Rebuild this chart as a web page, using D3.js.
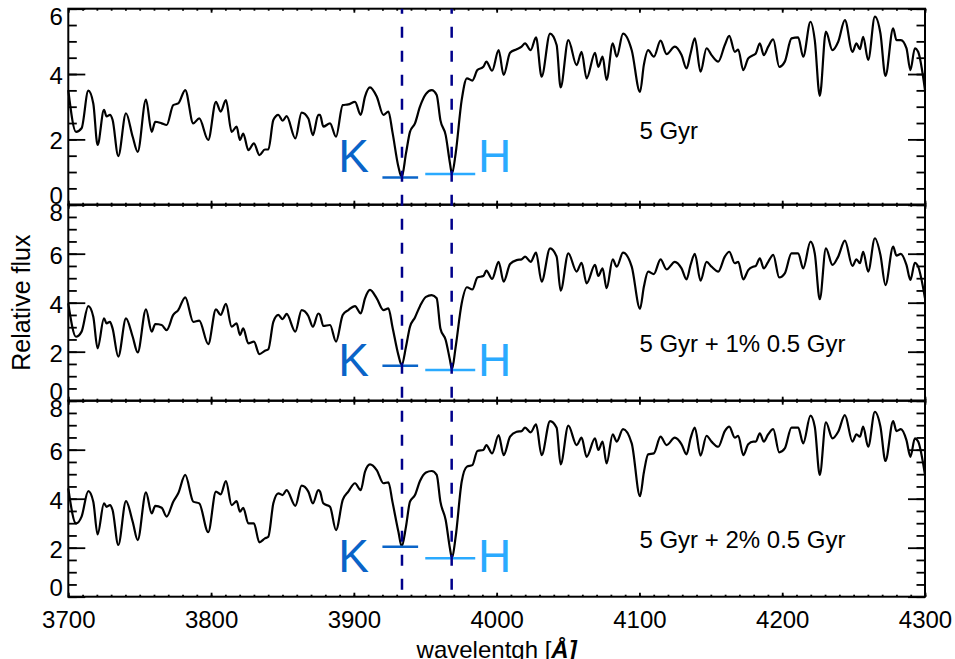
<!DOCTYPE html>
<html>
<head>
<meta charset="utf-8">
<script src="https://cdn.jsdelivr.net/npm/d3@7"></script>
<style>
  body { margin: 0; background: #fff; }
  svg { display: block; font-family: "Liberation Sans", Arial, Helvetica, sans-serif; }
</style>
</head>
<body>
<div id="chart"></div>
<script>
// wavelength grid (Angstrom)
const wave = [
  3700.0, 3705.4, 3709.3, 3714.0, 3717.5, 3720.5, 3725.0, 3726.8, 3729.2, 3731.0,
  3735.0, 3740.4, 3745.1, 3748.6, 3754.4, 3758.4, 3760.9, 3765.4, 3768.9, 3773.5,
  3777.0, 3781.9, 3787.5, 3791.7, 3798.0, 3803.4, 3806.7, 3810.4, 3814.4, 3817.9,
  3820.2, 3822.5, 3826.1, 3830.0, 3833.8, 3837.7, 3840.1, 3843.6, 3847.1, 3850.1,
  3852.9, 3859.0, 3863.4, 3868.1, 3871.3, 3875.1,
  3876.3, 3878.6, 3883.3, 3887.5, 3892.2, 3896.1, 3900.8, 3904.8, 3907.8, 3911.3,
  3916.0, 3920.7, 3924.2, 3927.0, 3931.2, 3933.5, 3936.5, 3939.3, 3942.8, 3946.3,
  3950.5, 3954.5, 3958.0, 3960.6, 3964.3, 3967.3, 3968.7, 3971.3, 3975.5, 3979.2,
  3983.0, 3986.5, 3990.7, 3992.8, 3996.8, 4001.4, 4004.9, 4009.4, 4014.0, 4017.5,
  4019.9, 4023.8, 4027.6, 4031.5, 4037.4, 4042.0, 4044.8, 4050.2, 4056.0, 4059.5,
  4063.0, 4068.9, 4071.2, 4074.2, 4077.0, 4081.3, 4084.1, 4088.5, 4094.6, 4100.4,
  4103.1, 4106.1, 4110.1, 4114.8, 4119.0, 4124.8, 4129.5, 4133.0, 4135.8, 4138.8,
  4142.8, 4147.0, 4150.5, 4155.2, 4159.8, 4162.9, 4166.8, 4169.2, 4172.7, 4176.2,
  4179.7, 4181.5, 4184.3, 4187.1, 4190.2, 4193.7, 4197.9, 4201.8, 4206.5, 4211.2,
  4214.7, 4219.8, 4222.8, 4226.3, 4230.6, 4235.2, 4239.2, 4243.9, 4249.2, 4252.0,
  4254.4, 4256.7, 4260.2, 4264.9, 4268.8, 4272.3, 4277.7, 4280.0, 4283.1, 4287.0,
  4289.8, 4292.9, 4295.2, 4300.0
];

// 5 Gyr
const flux5Gyr = [
  3.51, 2.23, 2.34, 3.49, 3.10, 1.83, 2.90, 2.70, 2.75, 2.60,
  1.49, 2.80, 2.08, 1.62, 3.22, 2.23, 2.54, 2.49, 2.44, 3.05,
  3.10, 3.51, 2.49, 2.64, 1.98, 3.15, 2.85, 3.20, 2.23, 2.39,
  1.98, 2.18, 1.67, 1.88, 1.52, 1.69, 1.69, 2.59, 2.75, 2.57,
  2.71, 2.03, 2.82, 2.64, 2.13, 2.75,
  2.75, 2.39, 2.49, 2.08, 3.05, 3.07, 3.15, 2.75, 3.31, 3.59,
  3.31, 2.75, 2.85, 2.23, 1.16, 0.84, 1.57, 2.23, 2.49, 3.00,
  3.39, 3.51, 3.36, 2.59, 2.13, 1.27, 0.94, 1.57, 3.20, 3.87,
  3.80, 4.12, 4.22, 4.38, 4.10, 4.73, 3.97, 4.65, 4.76, 4.84,
  4.94, 4.73, 5.12, 3.92, 5.24, 4.89, 3.59, 5.04, 4.27, 4.68,
  3.87, 4.65, 4.22, 4.53, 3.82, 4.94, 4.53, 5.24, 4.73, 3.45,
  4.28, 4.73, 4.53, 5.02, 4.61, 4.84, 4.58, 4.17, 4.63, 5.09,
  4.07, 4.79, 4.58, 4.38, 4.89, 5.17, 4.68, 4.75, 4.12, 4.48,
  4.58, 4.63, 4.94, 4.58, 4.84, 5.06, 4.22, 4.38, 5.09, 5.12,
  4.53, 5.60, 5.04, 3.33, 5.30, 4.73, 4.99, 5.65, 4.68, 4.94,
  4.76, 5.14, 4.43, 5.76, 5.24, 3.94, 5.40, 5.04, 5.04, 4.79,
  4.12, 4.79, 4.68, 3.51
];

// 5 Gyr + 1% 0.5 Gyr
const flux1pct = [
  3.97, 2.61, 2.82, 3.86, 3.43, 2.14, 3.36, 3.16, 3.22, 2.95,
  1.80, 3.36, 2.61, 1.97, 3.73, 2.82, 3.13, 3.09, 2.88, 3.50,
  3.70, 4.22, 3.22, 3.27, 2.31, 3.73, 3.50, 3.95, 3.02, 3.16,
  2.68, 2.95, 2.34, 2.41, 1.90, 2.04, 2.10, 3.22, 3.50, 3.33,
  3.54, 2.82, 3.70, 3.46, 3.02, 3.56,
  3.50, 3.05, 3.09, 2.41, 3.50, 3.70, 3.86, 3.56, 4.18, 4.52,
  4.18, 3.70, 3.77, 3.02, 1.86, 1.45, 2.20, 3.02, 3.40, 3.86,
  4.24, 4.31, 4.18, 2.95, 2.48, 1.66, 1.28, 2.20, 3.97, 4.63,
  4.54, 5.03, 5.09, 5.31, 4.97, 5.67, 4.86, 5.58, 5.74, 5.77,
  5.88, 5.67, 6.04, 4.86, 6.22, 5.88, 4.49, 6.01, 5.27, 5.63,
  4.79, 5.54, 5.09, 5.40, 4.59, 5.77, 5.47, 6.04, 5.47, 3.75,
  4.65, 5.27, 5.17, 5.77, 5.36, 5.67, 5.40, 4.95, 5.54, 5.99,
  4.90, 5.67, 5.47, 5.27, 5.88, 6.08, 5.61, 5.67, 4.95, 5.33,
  5.47, 5.50, 5.81, 5.40, 5.67, 5.95, 5.03, 5.20, 6.01, 6.01,
  5.40, 6.49, 6.01, 4.14, 6.22, 5.54, 5.88, 6.53, 5.50, 5.77,
  5.61, 6.08, 5.27, 6.63, 5.95, 4.72, 6.29, 5.92, 5.99, 5.54,
  4.93, 5.63, 5.47, 4.18
];

// 5 Gyr + 2% 0.5 Gyr
const flux2pct = [
  4.42, 2.99, 3.27, 4.31, 3.88, 2.54, 3.81, 3.67, 3.74, 3.54,
  2.11, 3.90, 3.06, 2.31, 4.26, 3.40, 3.71, 3.63, 3.27, 3.88,
  4.22, 4.97, 3.88, 3.81, 2.63, 4.29, 4.18, 4.72, 3.74, 3.90,
  3.47, 3.63, 2.99, 2.99, 2.22, 2.38, 2.45, 3.81, 4.22, 4.15,
  4.35, 3.71, 4.53, 4.29, 3.81, 4.35,
  4.29, 3.81, 3.67, 2.72, 3.95, 4.29, 4.63, 4.35, 5.10, 5.40,
  5.17, 4.63, 4.67, 3.88, 2.65, 2.05, 2.86, 3.88, 4.15, 4.72,
  5.07, 5.13, 4.97, 3.88, 3.13, 1.97, 1.57, 2.45, 4.69, 5.31,
  5.37, 5.95, 5.99, 6.19, 5.85, 6.60, 5.78, 6.53, 6.73, 6.76,
  6.90, 6.71, 7.03, 5.78, 7.17, 6.90, 5.40, 6.98, 6.19, 6.49,
  5.71, 6.46, 5.99, 6.33, 5.44, 6.63, 6.33, 6.84, 6.26, 4.10,
  5.07, 5.81, 5.85, 6.53, 6.19, 6.49, 6.22, 5.81, 6.46, 6.90,
  5.76, 6.57, 6.33, 6.12, 6.76, 6.94, 6.49, 6.57, 5.78, 6.22,
  6.33, 6.33, 6.67, 6.33, 6.63, 6.84, 5.89, 6.05, 6.90, 6.90,
  6.26, 7.39, 6.94, 4.97, 7.12, 6.46, 6.73, 7.41, 6.33, 6.63,
  6.53, 6.94, 6.12, 7.55, 6.94, 5.54, 7.17, 6.76, 6.84, 6.39,
  5.71, 6.46, 6.33, 4.97
];

const panelLabels = ["5 Gyr", "5 Gyr + 1% 0.5 Gyr", "5 Gyr + 2% 0.5 Gyr"];
const panelYMax = [6, 8, 8];
const panelYTicks = [[0, 2, 4, 6], [0, 2, 4, 6, 8], [0, 2, 4, 6, 8]];
const kLevels = [0.83, 1.43, 2.04];   // flux level of the K bar
const hLevels = [0.94, 1.25, 1.57];   // flux level of the H bar
const xTicks = [3700, 3800, 3900, 4000, 4100, 4200, 4300];
const caK = 3933.7, caH = 3968.5;

const W = 955, H = 659;
const plotLeft = 68.3, plotRight = 925;
const plotTop = 8.7, panelH = 196;
const font = '"Liberation Sans", Arial, Helvetica, sans-serif';
const colK = "#0a64c8", colH = "#2aaaff";

const svg = d3.select("#chart").append("svg")
  .attr("width", W)
  .attr("height", H);

const x = d3.scaleLinear().domain([3700, 4300]).range([plotLeft, plotRight]);
const minorX = d3.range(3700, 4301, 10);

const series = [flux5Gyr, flux1pct, flux2pct];

series.forEach((flux, p) => {
  const y0 = plotTop + p * panelH;
  const y = d3.scaleLinear().domain([0, panelYMax[p]]).range([y0 + panelH, y0]);
  const minorY = d3.range(0, panelYMax[p] + 0.01, 0.5);
  const g = svg.append("g");

  // spectrum
  const line = d3.line()
    .x((d, i) => x(wave[i]))
    .y(d => y(d))
    .curve(d3.curveMonotoneX);
  g.append("path")
    .datum(flux)
    .attr("fill", "none")
    .attr("stroke", "#000")
    .attr("stroke-width", 2.2)
    .attr("stroke-linejoin", "round")
    .attr("d", line);

  // K / H bars and letters
  g.append("line")
    .attr("x1", x(3920)).attr("x2", x(3945))
    .attr("y1", y(kLevels[p])).attr("y2", y(kLevels[p]))
    .attr("stroke", colK).attr("stroke-width", 2.5);
  g.append("line")
    .attr("x1", x(3950)).attr("x2", x(3985))
    .attr("y1", y(hLevels[p])).attr("y2", y(hLevels[p]))
    .attr("stroke", colH).attr("stroke-width", 2.5);
  g.append("text")
    .attr("x", x(3889)).attr("y", y(1))
    .attr("font-size", 46).attr("fill", colK)
    .text("K");
  g.append("text")
    .attr("x", x(3987)).attr("y", y(1))
    .attr("font-size", 46).attr("fill", colH)
    .text("H");

  // panel label
  g.append("text")
    .attr("x", x(4100)).attr("y", y(2))
    .attr("font-size", 24).attr("fill", "#000")
    .text(panelLabels[p]);

  // frame
  g.append("rect")
    .attr("x", plotLeft).attr("y", y0)
    .attr("width", plotRight - plotLeft).attr("height", panelH)
    .attr("fill", "none").attr("stroke", "#000").attr("stroke-width", 2);

  // ticks on all four sides, pointing inward
  const addAxis = (axis, transform) => {
    const a = g.append("g").attr("transform", transform).call(axis);
    a.select(".domain").remove();
    a.selectAll(".tick line").attr("stroke", "#000").attr("stroke-width", 1.8);
    return a;
  };
  const noLabel = () => "";

  addAxis(d3.axisBottom(x).tickValues(minorX).tickSize(-2).tickFormat(noLabel), `translate(0,${y0 + panelH})`);
  addAxis(d3.axisTop(x).tickValues(minorX).tickSize(-2).tickFormat(noLabel), `translate(0,${y0})`);
  addAxis(d3.axisTop(x).tickValues(xTicks).tickSize(-4).tickFormat(noLabel), `translate(0,${y0})`);
  const bottomAx = addAxis(d3.axisBottom(x).tickValues(xTicks).tickSize(-4)
      .tickFormat(p === 2 ? d3.format("d") : noLabel), `translate(0,${y0 + panelH})`);
  bottomAx.selectAll(".tick text")
    .attr("y", 31).attr("dy", 0)
    .attr("font-family", font).attr("font-size", 24).attr("fill", "#000");

  addAxis(d3.axisRight(y).tickValues(minorY).tickSize(-8.5).tickFormat(noLabel), `translate(${plotRight},0)`);
  addAxis(d3.axisRight(y).tickValues(panelYTicks[p]).tickSize(-17).tickFormat(noLabel), `translate(${plotRight},0)`);
  addAxis(d3.axisLeft(y).tickValues(minorY).tickSize(-8.5).tickFormat(noLabel), `translate(${plotLeft},0)`);
  const leftAx = addAxis(d3.axisLeft(y).tickValues(panelYTicks[p]).tickSize(-17).tickFormat(d3.format("d")),
      `translate(${plotLeft},0)`);
  leftAx.selectAll(".tick text")
    .attr("x", -5.5)
    .attr("dy", d => d === 0 ? -1 : (d === panelYMax[p] ? 16 : 9.5))
    .attr("font-family", font).attr("font-size", 24).attr("fill", "#000");
});

// Ca II K and H lines
[caK, caH].forEach(w => {
  svg.append("line")
    .attr("x1", x(w)).attr("x2", x(w))
    .attr("y1", plotTop).attr("y2", plotTop + 3 * panelH)
    .attr("stroke", "#00008b")
    .attr("stroke-width", 2.5)
    .attr("stroke-dasharray", "11,13")
    .attr("stroke-dashoffset", 6);
});

// axis titles
svg.append("text")
  .attr("transform", `translate(29.5,${plotTop + 1.5 * panelH}) rotate(-90)`)
  .attr("text-anchor", "middle")
  .attr("font-size", 25)
  .text("Relative flux");

const xTitle = svg.append("text")
  .attr("x", (plotLeft + plotRight) / 2)
  .attr("y", 658)
  .attr("text-anchor", "middle")
  .attr("font-size", 24);
xTitle.append("tspan").text("wavelentgh [");
xTitle.append("tspan").attr("font-weight", "bold").attr("font-style", "italic").text("Å]");
</script>
</body>
</html>
